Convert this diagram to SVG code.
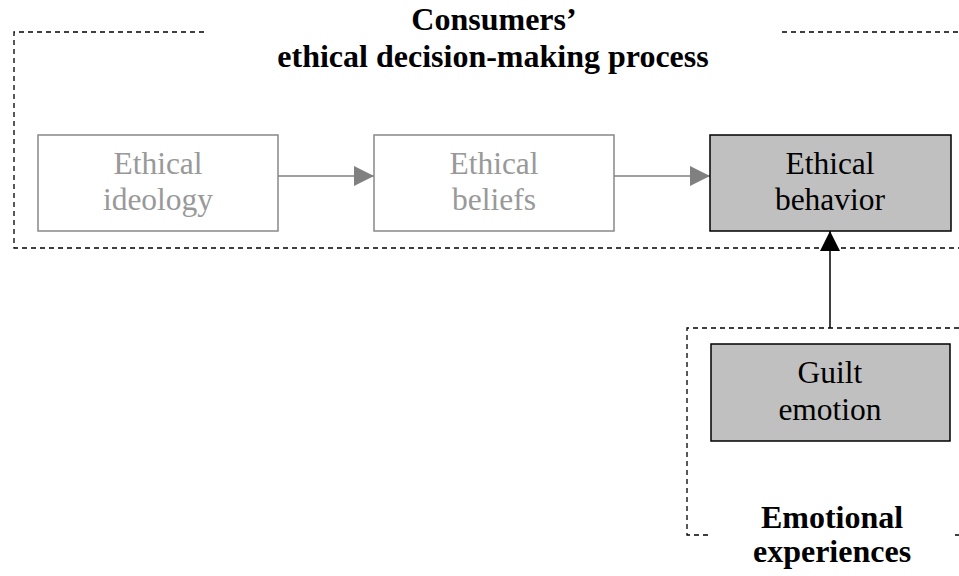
<svg xmlns="http://www.w3.org/2000/svg" width="959" height="576" viewBox="0 0 959 576">
<style>
.dash{fill:none;stroke:#000;stroke-width:1.3;stroke-dasharray:5,4}
.light rect{fill:#fff;stroke:#888;stroke-width:1.5}
.light text{fill:#999}
.dark rect{fill:#c0c0c0;stroke:#000;stroke-width:1.5}
.dark text{fill:#000}
text{font-family:"Liberation Serif","Times New Roman",serif;font-size:31.5px;text-anchor:middle}
.title{font-weight:bold;font-size:32px;fill:#000}
</style>
<defs>
<marker id="ag" viewBox="0 0 20 20" refX="20" refY="10" markerWidth="20" markerHeight="20" markerUnits="userSpaceOnUse" orient="auto"><path d="M0,0 L20,10 L0,20 Z" fill="#808080"/></marker>
<marker id="ab" viewBox="0 0 20 20" refX="20" refY="10" markerWidth="20" markerHeight="20" markerUnits="userSpaceOnUse" orient="auto"><path d="M0,0 L20,10 L0,20 Z" fill="#000"/></marker>
</defs>
<g id="group-process">
<path class="dash" d="M204,32 H14 V248 H959 M782,32 H959"/>
<text class="title" x="494" y="30">Consumers’</text>
<text class="title" x="493" y="67">ethical decision-making process</text>
</g>
<g id="group-emotional">
<path class="dash" d="M959,328 H687 V535 H712 M955,535 H959"/>
<text class="title" x="832" y="528">Emotional</text>
<text class="title" x="832" y="562">experiences</text>
</g>
<g id="connectors">
<line x1="278" y1="176" x2="374" y2="176" stroke="#808080" stroke-width="1.5" marker-end="url(#ag)"/>
<line x1="614" y1="176" x2="710" y2="176" stroke="#808080" stroke-width="1.5" marker-end="url(#ag)"/>
<line x1="830" y1="328" x2="830" y2="231" stroke="#000" stroke-width="1.5" marker-end="url(#ab)"/>
</g>
<g id="node-ideology" class="light">
<rect x="38" y="135" width="240" height="96"/>
<text x="158" y="174">Ethical</text>
<text x="158" y="210">ideology</text>
</g>
<g id="node-beliefs" class="light">
<rect x="374" y="135" width="240" height="96"/>
<text x="494" y="174">Ethical</text>
<text x="494" y="210">beliefs</text>
</g>
<g id="node-behavior" class="dark">
<rect x="710" y="135" width="241" height="96"/>
<text x="830" y="174">Ethical</text>
<text x="830" y="210">behavior</text>
</g>
<g id="node-guilt" class="dark">
<rect x="711" y="344" width="239" height="97"/>
<text x="830" y="383">Guilt</text>
<text x="830" y="420">emotion</text>
</g>
</svg>
